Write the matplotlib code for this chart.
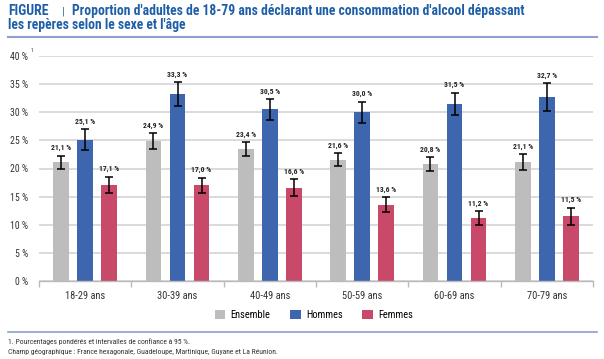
import numpy as np
import matplotlib.pyplot as plt
from matplotlib.patches import Patch
from matplotlib.lines import Line2D

plt.rcParams['font.family'] = ['Roboto Condensed', 'DejaVu Sans']

# Data (percent, 95% CI half-widths estimated)
ages = ['18-29 ans', '30-39 ans', '40-49 ans', '50-59 ans', '60-69 ans', '70-79 ans']
ensemble = [21.1, 24.9, 23.4, 21.6, 20.8, 21.1]
hommes = [25.1, 33.3, 30.5, 30.0, 31.5, 32.7]
femmes = [17.1, 17.0, 16.6, 13.6, 11.2, 11.5]
ensemble_err = [1.2, 1.35, 1.25, 1.1, 1.2, 1.4]
hommes_err = [1.9, 2.1, 1.9, 1.9, 2.0, 2.5]
femmes_err = [1.45, 1.4, 1.45, 1.3, 1.25, 1.55]
series_names = ['Ensemble', 'Hommes', 'Femmes']

colors = ['#BDBDBD', '#3D66AE', '#C8496A']
title_col = '#1F5FA8'
rule_col = '#8EA0D0'

fig = plt.figure(figsize=(6.04, 3.59), dpi=100)
ax = fig.add_axes([39/604, 1 - 281/359, (593 - 39)/604, (281 - 56)/359])

x = np.arange(len(ages))
w = 0.173
step = 0.26
series = [ensemble, hommes, femmes]
errs = [ensemble_err, hommes_err, femmes_err]

def fmt(v):
    return ('%.1f' % v).replace('.', ',') + ' %'

for k, (vals, err, col) in enumerate(zip(series, errs, colors)):
    xs = x + (k - 1) * step
    ax.bar(xs, vals, width=w, color=col, zorder=2)
    ax.errorbar(xs, vals, yerr=err, fmt='none', ecolor='black',
                elinewidth=1.1, capsize=3, capthick=1.1, zorder=3)
    for xi, v, e in zip(xs, vals, err):
        ax.annotate(fmt(v), (xi, v + e), xytext=(0, 3), textcoords='offset points',
                    ha='center', va='bottom', fontsize=5.5, fontweight='bold',
                    color='#222222')

ax.set_xlim(-0.5, len(ages) - 0.5)
ax.set_ylim(0, 40)
ax.set_yticks(np.arange(0, 41, 5))
ax.set_yticklabels(['%d %%' % t for t in range(0, 41, 5)])
ax.yaxis.grid(True, color='#DADADA', linewidth=1.4, zorder=0)
ax.set_axisbelow(True)
ax.tick_params(axis='y', length=0, pad=8, labelsize=7, labelcolor='#333333')

ax.set_xticks(x)
ax.set_xticklabels(ages)
ax.tick_params(axis='x', length=0, pad=7, labelsize=7.5, labelcolor='#333333')
ax.set_xticks(np.arange(-0.5, len(ages)), minor=True)
ax.tick_params(axis='x', which='minor', length=4, color='#BBBBBB', width=1)

for s in ['top', 'right', 'left']:
    ax.spines[s].set_visible(False)
ax.spines['bottom'].set_color('#BBBBBB')
ax.spines['bottom'].set_linewidth(1)

# superscript note on the 40 % label
fig.text(31/604, 1 - 52/359, '1', fontsize=4, color='#333333')

# legend
handles = [Patch(facecolor=c, edgecolor='none') for c in colors]
fig.legend(handles, series_names, loc='center', bbox_to_anchor=(314/604, 1 - 315/359),
           ncol=3, frameon=False, fontsize=7.5, handlelength=1.0, handleheight=0.9,
           columnspacing=1.9, handletextpad=0.5)

# title
fig.text(8/604, 1 - 11/359, 'FIGURE', fontsize=10, fontweight='bold', color=title_col, va='center')
fig.text(62/604, 1 - 11/359, '|', fontsize=8, color=title_col, va='center')
fig.text(72/604, 1 - 11/359, "Proportion d'adultes de 18-79 ans déclarant une consommation d'alcool dépassant",
         fontsize=9.8, fontweight='bold', color=title_col, va='center')
fig.text(8/604, 1 - 25/359, "les repères selon le sexe et l'âge",
         fontsize=9.8, fontweight='bold', color=title_col, va='center')

fig.add_artist(Line2D([8/604, 597/604], [1 - 37/359, 1 - 37/359], color=rule_col, linewidth=1.5))
fig.add_artist(Line2D([8/604, 597/604], [1 - 332/359, 1 - 332/359], color=rule_col, linewidth=1.2))

# footnotes
fig.text(8/604, 1 - 342/359, '1. Pourcentages pondérés et intervalles de confiance à 95 %.',
         fontsize=5.5, color='#333333', va='center')
fig.text(8/604, 1 - 352/359, 'Champ géographique : France hexagonale, Guadeloupe, Martinique, Guyane et La Réunion.',
         fontsize=5.5, color='#333333', va='center')

fig.savefig('out.png', dpi=100)
